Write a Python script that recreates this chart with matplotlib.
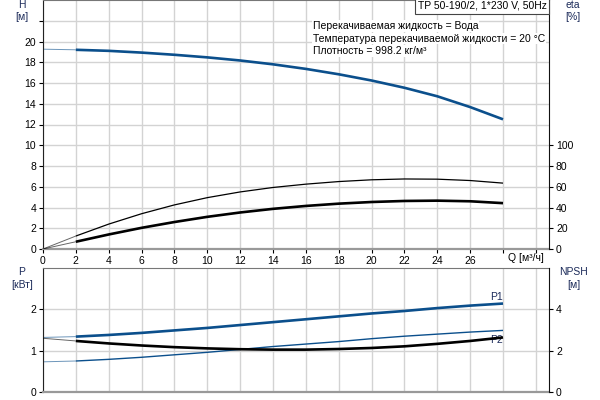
import numpy as np
import matplotlib
matplotlib.use('Agg')
import matplotlib.pyplot as plt

plt.rcParams['font.family'] = ['Liberation Sans', 'DejaVu Sans']
plt.rcParams['font.size'] = 7.5

# flow points, m3/h
q = [0, 2, 4, 6, 8, 10, 12, 14, 16, 18, 20, 22, 24, 26, 28]
# head, m
head = [19.26, 19.2, 19.1, 18.93, 18.72, 18.47, 18.17, 17.8, 17.36, 16.84, 16.24, 15.54, 14.72, 13.68, 12.5]
# pump efficiency, %
eta_pump = [0, 12.5, 24, 34, 42.5, 49.5, 55, 59.3, 62.5, 65, 66.7, 67.5, 67.3, 66, 63.5]
# total efficiency, %
eta_total = [0, 7, 14, 20.4, 26, 31, 35.2, 38.7, 41.5, 43.7, 45.3, 46.3, 46.6, 46, 44.2]
# power, kW
p1 = [1.32, 1.34, 1.38, 1.43, 1.49, 1.55, 1.62, 1.69, 1.76, 1.83, 1.9, 1.96, 2.03, 2.09, 2.14]
p2 = [0.73, 0.75, 0.79, 0.84, 0.9, 0.96, 1.03, 1.1, 1.16, 1.22, 1.29, 1.35, 1.40, 1.45, 1.49]
# NPSH, m
npsh = [2.6, 2.47, 2.35, 2.25, 2.17, 2.11, 2.07, 2.05, 2.05, 2.08, 2.13, 2.21, 2.33, 2.47, 2.64]

title = 'TP 50-190/2, 1*230 V, 50Hz'
notes = ['Перекачиваемая жидкость = Вода',
         'Температура перекачиваемой жидкости = 20 °C',
         'Плотность = 998.2 кг/м³']

blue = '#0b4f8c'
grid_c = '#d3d3d3'
lab_c = '#1c2b5a'
qmax = 30.8

fig = plt.figure(figsize=(6, 4), dpi=100)
ax = fig.add_axes([43 / 600, 1 - 249 / 400, 506 / 600, 249 / 400])
ax2 = ax.twinx()
bx = fig.add_axes([43 / 600, 1 - 392 / 400, 506 / 600, 124 / 400])
bx2 = bx.twinx()


def curve(a, y, color, lw):
    # first segment (Q 0..2) is drawn thin, outside the working range
    a.plot(q[:2], y[:2], color=color, lw=0.7, alpha=0.6, solid_capstyle='butt')
    a.plot(q[1:], y[1:], color=color, lw=lw, solid_capstyle='butt')


for a in (ax, bx):
    a.set_xlim(0, qmax)
    a.set_xticks(range(0, 31, 2))
    a.grid(True, color=grid_c, lw=1.0)
    a.set_axisbelow(True)
    a.tick_params(length=3, width=0.8, pad=2)
    for s in ('top', 'right'):
        a.spines[s].set_visible(False)
    a.spines['left'].set_color('#222222')
    a.spines['bottom'].set_color('#999999')
    a.spines['bottom'].set_linewidth(1.6)

ax.set_ylim(0, 24)
ax.set_yticks(range(0, 24, 2))
ax.set_yticklabels([str(v) if v <= 20 else '' for v in range(0, 24, 2)])
ax.set_xticklabels([str(v) if v <= 26 else '' for v in range(0, 31, 2)])
ax.spines['top'].set_visible(True)
ax.spines['top'].set_color('#777777')

bx.set_ylim(0, 3)
bx.set_yticks([0, 1, 2])
bx.set_xticklabels([])
bx.tick_params(axis='x', length=0)
bx.spines['top'].set_visible(True)
bx.spines['top'].set_color('#777777')

for a in (ax2, bx2):
    for s in ('top', 'left', 'bottom'):
        a.spines[s].set_visible(False)
    a.spines['right'].set_color('#111111')
    a.tick_params(length=3, width=0.8, pad=2)

ax2.set_ylim(0, 240)
ax2.set_yticks(range(0, 101, 20))
bx2.set_ylim(0, 6)
bx2.set_yticks([0, 2, 4])

curve(ax, head, blue, 1.9)
curve(ax2, eta_pump, 'black', 0.9)
curve(ax2, eta_total, 'black', 1.9)
curve(bx, p1, blue, 1.9)
curve(bx, p2, blue, 1.0)
curve(bx2, npsh, 'black', 1.9)

bx.text(28, p1[-1] + 0.04, 'P1', color=lab_c, ha='right', va='bottom')
bx.text(28, p2[-1] - 0.1, 'P2', color=lab_c, ha='right', va='top')

ax.text(29.4, -0.4, 'Q [м³/ч]', ha='center', va='top')

fig.text(22 / 600, 1 - 5 / 400, 'H', color=lab_c, ha='center', va='center')
fig.text(22 / 600, 1 - 17 / 400, '[м]', color=lab_c, ha='center', va='center')
fig.text(573 / 600, 1 - 5 / 400, 'eta', color=lab_c, ha='center', va='center')
fig.text(573 / 600, 1 - 17 / 400, '[%]', color=lab_c, ha='center', va='center')
fig.text(22 / 600, 1 - 272 / 400, 'P', color=lab_c, ha='center', va='center')
fig.text(22 / 600, 1 - 285 / 400, '[кВт]', color=lab_c, ha='center', va='center')
fig.text(574 / 600, 1 - 272 / 400, 'NPSH', color=lab_c, ha='center', va='center')
fig.text(574 / 600, 1 - 285 / 400, '[м]', color=lab_c, ha='center', va='center')

fig.text(418 / 600, 1 - 6 / 400, title, ha='left', va='center',
         bbox=dict(boxstyle='square,pad=0.25', fc='white', ec='#444444', lw=0.8))
for i, line in enumerate(notes):
    fig.text(313 / 600, 1 - (26 + i * 12.5) / 400, line, ha='left', va='center',
             bbox=dict(boxstyle='square,pad=0.05', fc='white', ec='none'))

fig.savefig('out.png', dpi=100)
